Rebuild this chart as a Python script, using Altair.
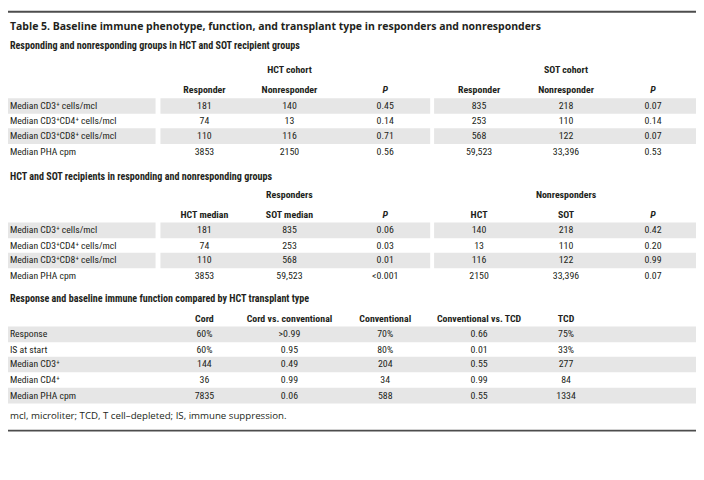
import altair as alt
import pandas as pd

# ---------------- data ----------------
title_text = "Table 5. Baseline immune phenotype, function, and transplant type in responders and nonresponders"
footnote_text = "mcl, microliter; TCD, T cell\u2013depleted; IS, immune suppression."

sec1_title = "Responding and nonresponding groups in HCT and SOT recipient groups"
sec1_groups = ["HCT cohort", "SOT cohort"]
sec1_headers = ["Responder", "Nonresponder", "P", "Responder", "Nonresponder", "P"]
sec1_labels = ["Median CD3\u207a cells/mcl", "Median CD3\u207aCD4\u207a cells/mcl",
               "Median CD3\u207aCD8\u207a cells/mcl", "Median PHA cpm"]
hct_responder = ["181", "74", "110", "3853"]
hct_nonresponder = ["140", "13", "116", "2150"]
hct_p = ["0.45", "0.14", "0.71", "0.56"]
sot_responder = ["835", "253", "568", "59,523"]
sot_nonresponder = ["218", "110", "122", "33,396"]
sot_p = ["0.07", "0.14", "0.07", "0.53"]

sec2_title = "HCT and SOT recipients in responding and nonresponding groups"
sec2_groups = ["Responders", "Nonresponders"]
sec2_headers = ["HCT median", "SOT median", "P", "HCT", "SOT", "P"]
sec2_labels = sec1_labels
resp_hct = ["181", "74", "110", "3853"]
resp_sot = ["835", "253", "568", "59,523"]
resp_p = ["0.06", "0.03", "0.01", "<0.001"]
nonresp_hct = ["140", "13", "116", "2150"]
nonresp_sot = ["218", "110", "122", "33,396"]
nonresp_p = ["0.42", "0.20", "0.99", "0.07"]

sec3_title = "Response and baseline immune function compared by HCT transplant type"
sec3_headers = ["Cord", "Cord vs. conventional", "Conventional", "Conventional vs. TCD", "TCD"]
sec3_labels = ["Response", "IS at start", "Median CD3\u207a", "Median CD4\u207a", "Median PHA cpm"]
cord = ["60%", "60%", "144", "36", "7835"]
cord_vs_conventional = [">0.99", "0.95", "0.49", "0.99", "0.06"]
conventional = ["70%", "80%", "204", "34", "588"]
conventional_vs_tcd = ["0.66", "0.01", "0.55", "0.99", "0.55"]
tcd = ["75%", "33%", "277", "84", "1334"]

# ---------------- layout (reference pixel grid 704 x 480) ----------------
COLS = [201, 288, 386, 482, 571, 660]
LABEL_X = 2
Y_TITLE = 17
Y_SUB1, Y_GRP1, Y_HEAD1 = 36, 61, 82
ROWS1 = [98, 114, 129, 145]
Y_SUB2, Y_GRP2, Y_HEAD2 = 171, 190, 210
ROWS2 = [226, 242, 257, 273]
Y_SUB3, Y_HEAD3 = 297, 317
ROWS3 = [333, 349, 364, 380, 396]
Y_FOOT = 417
RULES_Y = [1, 432]
SEG_SPLIT = [(0, 151), (156, 432), (436, 704)]
SEG_FULL = [(0, 704)]
HALF_ROW = 8

COND = "Liberation Sans Narrow, Roboto Condensed, DejaVu Sans Condensed, Roboto, sans-serif"
WIDE = "Open Sans, Lato, sans-serif"
TXT = "#231f20"

# ---------------- build tables ----------------
labels, values, headers, pheaders, subs = [], [], [], [], []

def add_section(sub, y_sub, groups, y_grp, hdrs, y_head, lbls, rows, cols_data, grp_cols):
    subs.append(dict(x=LABEL_X, y=y_sub, text=sub))
    for g, c in zip(groups, grp_cols):
        headers.append(dict(x=COLS[c], y=y_grp, text=g))
    for i, h in enumerate(hdrs):
        (pheaders if h == "P" else headers).append(dict(x=COLS[i], y=y_head, text=h))
    for r, (lab, yy) in enumerate(zip(lbls, rows)):
        labels.append(dict(x=LABEL_X, y=yy, text=lab))
        for ci, col in enumerate(cols_data):
            values.append(dict(x=COLS[ci], y=yy, text=col[r]))

add_section(sec1_title, Y_SUB1, sec1_groups, Y_GRP1, sec1_headers, Y_HEAD1, sec1_labels, ROWS1,
            [hct_responder, hct_nonresponder, hct_p, sot_responder, sot_nonresponder, sot_p], [1, 4])
add_section(sec2_title, Y_SUB2, sec2_groups, Y_GRP2, sec2_headers, Y_HEAD2, sec2_labels, ROWS2,
            [resp_hct, resp_sot, resp_p, nonresp_hct, nonresp_sot, nonresp_p], [1, 4])
add_section(sec3_title, Y_SUB3, [], None, sec3_headers, Y_HEAD3, sec3_labels, ROWS3,
            [cord, cord_vs_conventional, conventional, conventional_vs_tcd, tcd], [])

shade = []
for rows, segs in [(ROWS1, SEG_SPLIT), (ROWS2, SEG_SPLIT), (ROWS3, SEG_FULL)]:
    for r, yy in enumerate(rows):
        if r % 2 == 0:
            for a, b in segs:
                shade.append(dict(x=a, x2=b, y=yy - HALF_ROW, y2=yy + HALF_ROW))

rules = pd.DataFrame([dict(x=0, x2=704, y=yy) for yy in RULES_Y])

XS = alt.Scale(domain=[0, 704], clamp=True)
YS = alt.Scale(domain=[0, 480], reverse=True)

def X(f="x"):
    return alt.X(f + ":Q", scale=XS, axis=None)

def Y(f="y"):
    return alt.Y(f + ":Q", scale=YS, axis=None)

base_enc = dict(x=X(), y=Y(), text="text:N")

shade_layer = alt.Chart(pd.DataFrame(shade)).mark_rect(color="#e6e6e6").encode(
    x=X(), x2="x2:Q", y=Y(), y2="y2:Q")
rule_layer = alt.Chart(rules).mark_rule(color="#4d4d4d", strokeWidth=2).encode(
    x=X(), x2="x2:Q", y=Y())

title_layer = alt.Chart(pd.DataFrame([dict(x=LABEL_X, y=Y_TITLE, text=title_text)])).mark_text(
    align="left", baseline="middle", font=WIDE, fontWeight="bold", fontSize=10.6, color=TXT
).encode(**base_enc)
sub_layer = alt.Chart(pd.DataFrame(subs)).mark_text(
    align="left", baseline="middle", font=COND, fontWeight="bold", fontSize=10.2, color=TXT
).encode(**base_enc)
head_layer = alt.Chart(pd.DataFrame(headers)).mark_text(
    align="center", baseline="middle", font=COND, fontWeight="bold", fontSize=10, color=TXT
).encode(**base_enc)
phead_layer = alt.Chart(pd.DataFrame(pheaders)).mark_text(
    align="center", baseline="middle", font=COND, fontWeight="bold", fontStyle="italic",
    fontSize=10, color=TXT
).encode(**base_enc)
label_layer = alt.Chart(pd.DataFrame(labels)).mark_text(
    align="left", baseline="middle", font=COND, fontSize=9.8, color=TXT
).encode(**base_enc)
value_layer = alt.Chart(pd.DataFrame(values)).mark_text(
    align="center", baseline="middle", font=COND, fontSize=10, color=TXT
).encode(**base_enc)
foot_layer = alt.Chart(pd.DataFrame([dict(x=LABEL_X, y=Y_FOOT, text=footnote_text)])).mark_text(
    align="left", baseline="middle", font=WIDE, fontSize=9.8, color=TXT
).encode(**base_enc)

chart = alt.layer(
    shade_layer, rule_layer, title_layer, sub_layer, head_layer, phead_layer,
    label_layer, value_layer, foot_layer
).properties(
    width=696, height=472, autosize=alt.AutoSizeParams(type="none"), padding=0,
    background="white"
).configure_view(stroke=None)

chart.save("out.html", embed_options={"renderer": "svg", "actions": False})
